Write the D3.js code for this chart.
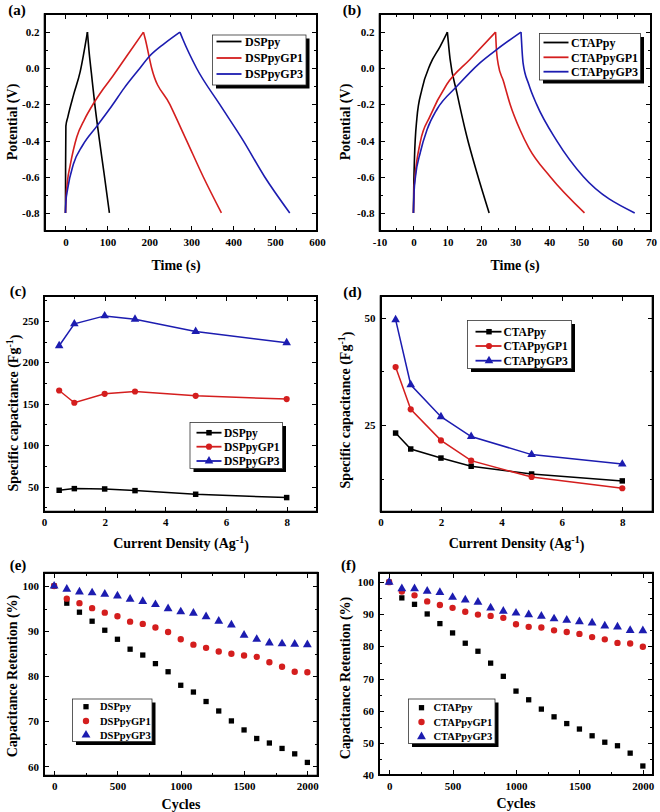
<!DOCTYPE html>
<html><head><meta charset="utf-8">
<script src="https://cdn.jsdelivr.net/npm/d3@7"></script>
</head><body style="margin:0">
<div id="wrap" style="position:relative;width:660px;height:812px;overflow:hidden">
<svg id="chart" width="660" height="812" style="position:absolute;left:0;top:0"></svg>
</div>
<script>
// ---------- DATA ----------
// (a) GCD curves, DSP series: time (s) and potential (V)
const aDSPpyT     = [0, 0.3, 1, 5.6, 19, 35, 52.4, 56, 62, 70, 80, 92, 104.8];
const aDSPpyV     = [-0.8, -0.55, -0.32, -0.27, -0.15, -0.02, 0.2, 0.1, -0.03, -0.2, -0.38, -0.58, -0.8];
const aDSPpyGP1T  = [0, 1.6, 5, 11, 27, 45, 67, 90, 114, 150, 186, 190.5, 205.7, 249, 289, 328.6, 372];
const aDSPpyGP1V  = [-0.8, -0.71, -0.62, -0.54, -0.38, -0.285, -0.195, -0.115, -0.04, 0.08, 0.2, 0.16, 0.0, -0.2, -0.4, -0.6, -0.8];
const aDSPpyGP3T  = [0, 1, 5, 19, 40, 75, 110, 140, 174, 200, 235, 273, 280, 312.8, 368, 424, 475, 535];
const aDSPpyGP3V  = [-0.8, -0.74, -0.67, -0.53, -0.43, -0.32, -0.21, -0.11, -0.01, 0.065, 0.135, 0.2, 0.16, 0.0, -0.2, -0.4, -0.6, -0.8];
// (b) GCD curves, CTAP series
const bCTAPpyT    = [0, 0.1, 0.3, 1, 2.5, 4.9, 7.85, 10.0, 10.8, 12.8, 15.7, 18.7, 22.3];
const bCTAPpyV    = [-0.8, -0.65, -0.5, -0.28, -0.117, 0.02, 0.12, 0.2, 0.05, -0.135, -0.375, -0.578, -0.8];
const bCTAPpyGP1T = [0, 0.15, 0.5, 2.0, 4.9, 9.8, 16.7, 24.2, 24.4, 25.0, 26.5, 28.5, 31.4, 34, 40.3, 50.4];
const bCTAPpyGP1V = [-0.8, -0.68, -0.595, -0.41, -0.265, -0.09, 0.05, 0.2, 0.12, 0.02, -0.07, -0.2, -0.34, -0.44, -0.6, -0.8];
const bCTAPpyGP3T = [0, 0.2, 0.6, 2.0, 4, 6.9, 12.8, 19.6, 25, 31.7, 32.0, 32.3, 34, 36.3, 42.2, 50.1, 65.2];
const bCTAPpyGP3V = [-0.8, -0.68, -0.6, -0.467, -0.34, -0.228, -0.1, 0.03, 0.11, 0.2, 0.1, 0.03, -0.09, -0.2, -0.4, -0.6, -0.8];
// (c),(d) specific capacitance vs current density
const currentDensity = [0.5, 1, 2, 3, 5, 8];
const cDSPpy      = [45.6, 47.6, 47.2, 45.2, 40.8, 36.8];
const cDSPpyGP1   = [166, 151.2, 162, 164.8, 159.6, 155.6];
const cDSPpyGP3   = [220, 246.4, 256, 252, 237.2, 223.6];
const dCTAPpy     = [23.2, 19.5, 17.4, 15.5, 13.7, 12.1];
const dCTAPpyGP1  = [38.5, 28.7, 21.5, 16.8, 13.0, 10.4];
const dCTAPpyGP3  = [49.5, 34.4, 27.0, 22.4, 18.2, 16.0];
// (e),(f) capacitance retention vs cycles
const cycles      = [0,100,200,300,400,500,600,700,800,900,1000,1100,1200,1300,1400,1500,1600,1700,1800,1900,2000];
const eDSPpy      = [100,96.2,94.2,92.2,90.2,88.2,86.0,84.7,82.8,81.0,78.0,76.5,74.4,72.3,70.1,68.1,66.2,65.2,64.0,62.8,60.9];
const eDSPpyGP1   = [100,97.2,96.2,95.1,94.1,93.3,92.1,91.6,90.8,89.8,88.2,87.0,86.3,85.5,85.0,84.6,84.3,83.1,82.1,81.0,80.9];
const eDSPpyGP3   = [100,99.3,98.7,98.5,98.2,97.8,97.1,96.6,95.9,95.0,94.3,94.0,93.2,92.2,91.4,89.1,88.2,87.4,87.2,87.1,87.0];
const fCTAPpy     = [100,95.1,93.1,90.1,87.1,84.2,81.0,78.5,74.8,70.7,66.1,63.4,60.5,58.1,56.0,54.3,52.2,50.2,49.1,46.8,42.8];
const fCTAPpyGP1  = [100,97.1,95.9,94.0,92.9,92.0,90.8,89.9,89.5,88.9,86.9,86.1,85.9,85.0,84.5,83.9,82.9,82.2,81.1,80.9,79.9];
const fCTAPpyGP3  = [100,98.0,98.0,97.2,96.8,95.3,94.5,93.8,92.0,91.0,90.4,89.9,89.4,88.6,88.2,87.7,87.3,86.4,86.1,85.0,84.9];
// tick values
const aXTicks = [0,100,200,300,400,500,600];
const bXTicks = [-10,0,10,20,30,40,50,60,70];
const abYTicks = [-0.8,-0.6,-0.4,-0.2,0.0,0.2];
const cdXTicks = [0,2,4,6,8];
const cYTicks = [50,100,150,200,250];
const dYTicks = [25,50];
const efXTicks = [0,500,1000,1500,2000];
const eYTicks = [60,70,80,90,100];
const fYTicks = [40,50,60,70,80,90,100];

// ---------- DRAWING ----------
const FONT = "'Liberation Serif','Times New Roman',serif";
const BLACK = "#000000", RED = "#d41e1e", BLUE = "#1c1cb0";
const svg = d3.select("#chart");
const wrap = d3.select("#wrap");
const frames = [];

function minorBetween(ticks, step, lo, hi) {
  const out = [];
  for (let v = lo; v <= hi + 1e-9; v += step) {
    const r = Math.round(v * 1000) / 1000;
    if (!ticks.some(t => Math.abs(t - r) < 1e-6)) out.push(r);
  }
  return out;
}

function panel(c) {
  const g = svg.append("g");
  const x = d3.scaleLinear().domain(c.xDomain).range([c.x0, c.x1]);
  const y = d3.scaleLinear().domain(c.yDomain).range([c.y1, c.y0]);
  const xMinor = minorBetween(c.xTicks, c.xMinorStep, c.xMinorStart, c.xDomain[1]);
  const yMinor = minorBetween(c.yTicks, c.yMinorStep, c.yMinorStart, c.yDomain[1]);

  const lab = sel => {
    sel.select(".domain").remove();
    sel.selectAll("line").remove();
    sel.selectAll("text").attr("font-family", FONT).attr("font-weight", "bold")
       .attr("font-size", 11).attr("fill", "#000");
  };
  g.append("g").attr("transform", `translate(0,${c.y1})`)
    .call(d3.axisBottom(x).tickValues(c.xTicks).tickSize(0).tickPadding(7).tickFormat(c.xFmt)).call(lab);
  g.append("g").attr("transform", `translate(${c.x0},0)`)
    .call(d3.axisLeft(y).tickValues(c.yTicks).tickSize(0).tickPadding(5).tickFormat(c.yFmt)).call(lab);

  // series
  c.series.forEach(s => {
    const pts = s.xs.map((v, i) => [v, s.ys[i]]);
    if (s.type === "gcd") {
      let pk = 0; s.ys.forEach((v, i) => { if (v > s.ys[pk]) pk = i; });
      const line = d3.line().x(d => x(d[0])).y(d => y(d[1])).curve(d3.curveMonotoneX);
      [pts.slice(0, pk + 1), pts.slice(pk)].forEach(seg => {
        g.append("path").attr("d", line(seg)).style("fill", "none").style("stroke", s.color)
          .style("stroke-width", "1.6px");
      });
    } else {
      if (s.type === "lineMarker") {
        const line = d3.line().x(d => x(d[0])).y(d => y(d[1]));
        g.append("path").attr("d", line(pts)).style("fill", "none").style("stroke", s.color).style("stroke-width", "1.5px");
      }
      const sym = d3.symbol().type(s.symbol).size(s.size);
      g.selectAll(null).data(pts).join("path")
        .attr("transform", d => `translate(${x(d[0])},${y(d[1])})`)
        .attr("d", sym).style("fill", s.color);
    }
  });

  // legend
  const L = c.legend;
  g.append("rect").attr("x", L.x0 + 3.5).attr("y", L.y0 + 3.5).attr("width", L.x1 - L.x0).attr("height", L.y1 - L.y0).style("fill", "#000");
  g.append("rect").attr("x", L.x0).attr("y", L.y0).attr("width", L.x1 - L.x0).attr("height", L.y1 - L.y0)
    .style("fill", "#fff").style("stroke", "#333").style("stroke-width", "0.8px");
  c.series.forEach((s, i) => {
    const ry = L.rows[i];
    if (s.type === "gcd" || s.type === "lineMarker") {
      g.append("line").attr("x1", L.lx0).attr("x2", L.lx1).attr("y1", ry).attr("y2", ry)
        .style("stroke", s.color).style("stroke-width", "1.8px");
    }
    if (s.type !== "gcd") {
      g.append("path").attr("transform", `translate(${L.mx},${ry})`)
        .attr("d", d3.symbol().type(s.symbol).size(s.size)()).style("fill", s.color);
    }
    g.append("text").attr("x", L.tx).attr("y", ry).attr("dy", "0.35em").text(s.name)
      .attr("font-family", FONT).attr("font-weight", "bold").attr("font-size", L.fs).attr("fill", "#000");
  });

  // titles
  const xt = g.append("text").attr("x", c.xtx).attr("y", c.xty).attr("dy", "0.35em").attr("text-anchor", "middle")
    .attr("font-family", FONT).attr("font-weight", "bold").attr("font-size", 14).attr("fill", "#000");
  xt.append("tspan").text(c.xTitle[0]);
  if (c.xTitle.length > 1) {
    xt.append("tspan").attr("dy", "-0.45em").attr("font-size", 10).text(c.xTitle[1]);
    xt.append("tspan").attr("dy", "0.45em").text(c.xTitle[2]);
  }
  const yt = g.append("text").attr("transform", `translate(${c.ytx},${c.yty}) rotate(-90)`)
    .attr("dy", "0.35em").attr("text-anchor", "middle")
    .attr("font-family", FONT).attr("font-weight", "bold").attr("font-size", 14).attr("fill", "#000");
  yt.append("tspan").text(c.yTitle[0]);
  if (c.yTitle.length > 1) {
    yt.append("tspan").attr("dy", "-0.45em").attr("font-size", 10).text(c.yTitle[1]);
    yt.append("tspan").attr("dy", "0.45em").text(c.yTitle[2]);
  }
  g.append("text").attr("x", c.lbl[0]).attr("y", c.lbl[1]).attr("dy", "0.35em").attr("text-anchor", "middle")
    .attr("font-family", FONT).attr("font-weight", "bold").attr("font-size", 15).attr("fill", "#000").text(c.label);

  frames.push({c, x, y, xMinor, yMinor});
}

// axis frames and inward ticks on all four sides, placed from the same D3 scales
function drawFrames() {
  frames.forEach(({c, x, y, xMinor, yMinor}) => {
    // SVG frame
    svg.append("path")
      .attr("d", `M${c.x0},${c.y0}H${c.x1}V${c.y1}H${c.x0}Z`)
      .style("fill", "none").style("stroke", "#000").style("stroke-width", "1.6px");
    // HTML overlay frame (same geometry)
    const bw = 2;
    wrap.append("div").style("position", "absolute")
      .style("left", (x.range()[0] - bw / 2) + "px").style("top", (y.range()[1] - bw / 2) + "px")
      .style("width", (x.range()[1] - x.range()[0] + bw) + "px").style("height", (y.range()[0] - y.range()[1] + bw) + "px")
      .style("box-sizing", "border-box").style("border", bw + "px solid #000").style("pointer-events", "none");
    const xt = c.xTicks.map(v => ({v, len: 5})).concat(xMinor.map(v => ({v, len: 3})));
    const yt = c.yTicks.map(v => ({v, len: 5})).concat(yMinor.map(v => ({v, len: 3})));
    const tw = 1;
    const tick = (l, t, w, h) => wrap.append("div").style("position", "absolute")
      .style("left", l + "px").style("top", t + "px").style("width", w + "px").style("height", h + "px")
      .style("background", "#000");
    xt.forEach(d => {
      const px = Math.round(x(d.v)) - 0.5;
      tick(px, c.y1 - d.len, tw, d.len);
      tick(px, c.y0, tw, d.len);
    });
    yt.forEach(d => {
      const py = Math.round(y(d.v)) - 0.5;
      tick(c.x0, py, d.len, tw);
      tick(c.x1 - d.len, py, d.len, tw);
    });
  });
}

const f1 = d => d.toFixed(1), f0 = d => String(d);
const SQ = d3.symbolSquare, CI = d3.symbolCircle, TR = d3.symbolTriangle;

panel({
  x0: 44.5, x1: 317, y0: 14, y1: 231, xDomain: [-50, 600], yDomain: [-0.9, 0.3],
  xTicks: aXTicks, xMinorStep: 100, xMinorStart: 50, yTicks: abYTicks, yMinorStep: 0.2, yMinorStart: -0.7,
  xFmt: f0, yFmt: f1, label: "(a)", lbl: [17, 10],
  xTitle: ["Time (s)"], xtx: 176, xty: 265, yTitle: ["Potential (V)"], ytx: 12, yty: 122,
  series: [
    {name: "DSPpy", xs: aDSPpyT, ys: aDSPpyV, color: BLACK, type: "gcd"},
    {name: "DSPpyGP1", xs: aDSPpyGP1T, ys: aDSPpyGP1V, color: RED, type: "gcd"},
    {name: "DSPpyGP3", xs: aDSPpyGP3T, ys: aDSPpyGP3V, color: BLUE, type: "gcd"}],
  legend: {x0: 212.5, y0: 35, x1: 306, y1: 85, rows: [41.5, 58, 74], lx0: 216.5, lx1: 241.5, tx: 245, fs: 12}
});
panel({
  x0: 379.5, x1: 651, y0: 14, y1: 231, xDomain: [-10, 70], yDomain: [-0.9, 0.3],
  xTicks: bXTicks, xMinorStep: 10, xMinorStart: -5, yTicks: abYTicks, yMinorStep: 0.2, yMinorStart: -0.7,
  xFmt: f0, yFmt: f1, label: "(b)", lbl: [352, 10],
  xTitle: ["Time (s)"], xtx: 515, xty: 265, yTitle: ["Potential (V)"], ytx: 345, yty: 122,
  series: [
    {name: "CTAPpy", xs: bCTAPpyT, ys: bCTAPpyV, color: BLACK, type: "gcd"},
    {name: "CTAPpyGP1", xs: bCTAPpyGP1T, ys: bCTAPpyGP1V, color: RED, type: "gcd"},
    {name: "CTAPpyGP3", xs: bCTAPpyGP3T, ys: bCTAPpyGP3V, color: BLUE, type: "gcd"}],
  legend: {x0: 539.5, y0: 33.5, x1: 640.5, y1: 80, rows: [42.5, 57.3, 71.7], lx0: 543.5, lx1: 568.5, tx: 571, fs: 12}
});
panel({
  x0: 44, x1: 317, y0: 296, y1: 511.5, xDomain: [0, 9], yDomain: [20, 280],
  xTicks: cdXTicks, xMinorStep: 2, xMinorStart: 1, yTicks: cYTicks, yMinorStep: 50, yMinorStart: 25,
  xFmt: f0, yFmt: f0, label: "(c)", lbl: [18, 291],
  xTitle: ["Current Density (Ag", "-1", ")"], xtx: 181, xty: 543,
  yTitle: ["Specific capacitance (Fg", "-1", ")"], ytx: 13, yty: 413,
  series: [
    {name: "DSPpy", xs: currentDensity, ys: cDSPpy, color: BLACK, type: "lineMarker", symbol: SQ, size: 30},
    {name: "DSPpyGP1", xs: currentDensity, ys: cDSPpyGP1, color: RED, type: "lineMarker", symbol: CI, size: 30},
    {name: "DSPpyGP3", xs: currentDensity, ys: cDSPpyGP3, color: BLUE, type: "lineMarker", symbol: TR, size: 32}],
  legend: {x0: 190, y0: 422.5, x1: 282.5, y1: 468.5, rows: [432.7, 446.7, 461], lx0: 196.5, lx1: 221.5, mx: 209, tx: 224, fs: 11.5}
});
panel({
  x0: 380.5, x1: 652.5, y0: 296, y1: 511.5, xDomain: [0, 9], yDomain: [5, 55],
  xTicks: cdXTicks, xMinorStep: 2, xMinorStart: 1, yTicks: dYTicks, yMinorStep: 25, yMinorStart: 12.5,
  xFmt: f0, yFmt: f0, label: "(d)", lbl: [352.5, 291.5],
  xTitle: ["Current Density (Ag", "-1", ")"], xtx: 516.5, xty: 543,
  yTitle: ["Specific capacitance (Fg", "-1", ")"], ytx: 345, yty: 410,
  series: [
    {name: "CTAPpy", xs: currentDensity, ys: dCTAPpy, color: BLACK, type: "lineMarker", symbol: SQ, size: 30},
    {name: "CTAPpyGP1", xs: currentDensity, ys: dCTAPpyGP1, color: RED, type: "lineMarker", symbol: CI, size: 30},
    {name: "CTAPpyGP3", xs: currentDensity, ys: dCTAPpyGP3, color: BLUE, type: "lineMarker", symbol: TR, size: 32}],
  legend: {x0: 467.5, y0: 320.5, x1: 571.5, y1: 368.5, rows: [331.7, 346, 360.7], lx0: 475.5, lx1: 501.5, mx: 489, tx: 503.5, fs: 11.5}
});
panel({
  x0: 44, x1: 317.5, y0: 572.5, y1: 775.5, xDomain: [-80, 2080], yDomain: [58, 103],
  xTicks: efXTicks, xMinorStep: 500, xMinorStart: 250, yTicks: eYTicks, yMinorStep: 10, yMinorStart: 65,
  xFmt: f0, yFmt: f0, label: "(e)", lbl: [18, 564.5],
  xTitle: ["Cycles"], xtx: 181, xty: 804, yTitle: ["Capacitance Retention (%)"], ytx: 12.5, yty: 676,
  series: [
    {name: "DSPpy", xs: cycles, ys: eDSPpy, color: BLACK, type: "scatter", symbol: SQ, size: 28},
    {name: "DSPpyGP1", xs: cycles, ys: eDSPpyGP1, color: RED, type: "scatter", symbol: CI, size: 32},
    {name: "DSPpyGP3", xs: cycles, ys: eDSPpyGP3, color: BLUE, type: "scatter", symbol: TR, size: 34}],
  legend: {x0: 72.5, y0: 699, x1: 152, y1: 741.5, rows: [706.7, 721, 735], mx: 86, tx: 100, fs: 10.5}
});
panel({
  x0: 379, x1: 653, y0: 572.5, y1: 775, xDomain: [-80, 2080], yDomain: [40, 103],
  xTicks: efXTicks, xMinorStep: 500, xMinorStart: 250, yTicks: fYTicks, yMinorStep: 10, yMinorStart: 45,
  xFmt: f0, yFmt: f0, label: "(f)", lbl: [348.5, 564.5],
  xTitle: ["Cycles"], xtx: 516, xty: 803, yTitle: ["Capacitance Retention (%)"], ytx: 345, yty: 678,
  series: [
    {name: "CTAPpy", xs: cycles, ys: fCTAPpy, color: BLACK, type: "scatter", symbol: SQ, size: 28},
    {name: "CTAPpyGP1", xs: cycles, ys: fCTAPpyGP1, color: RED, type: "scatter", symbol: CI, size: 32},
    {name: "CTAPpyGP3", xs: cycles, ys: fCTAPpyGP3, color: BLUE, type: "scatter", symbol: TR, size: 34}],
  legend: {x0: 408.5, y0: 699, x1: 495, y1: 743.5, rows: [707.7, 722, 736.7], mx: 421.5, tx: 433.5, fs: 10.5}
});
drawFrames();
</script>
</body></html>
